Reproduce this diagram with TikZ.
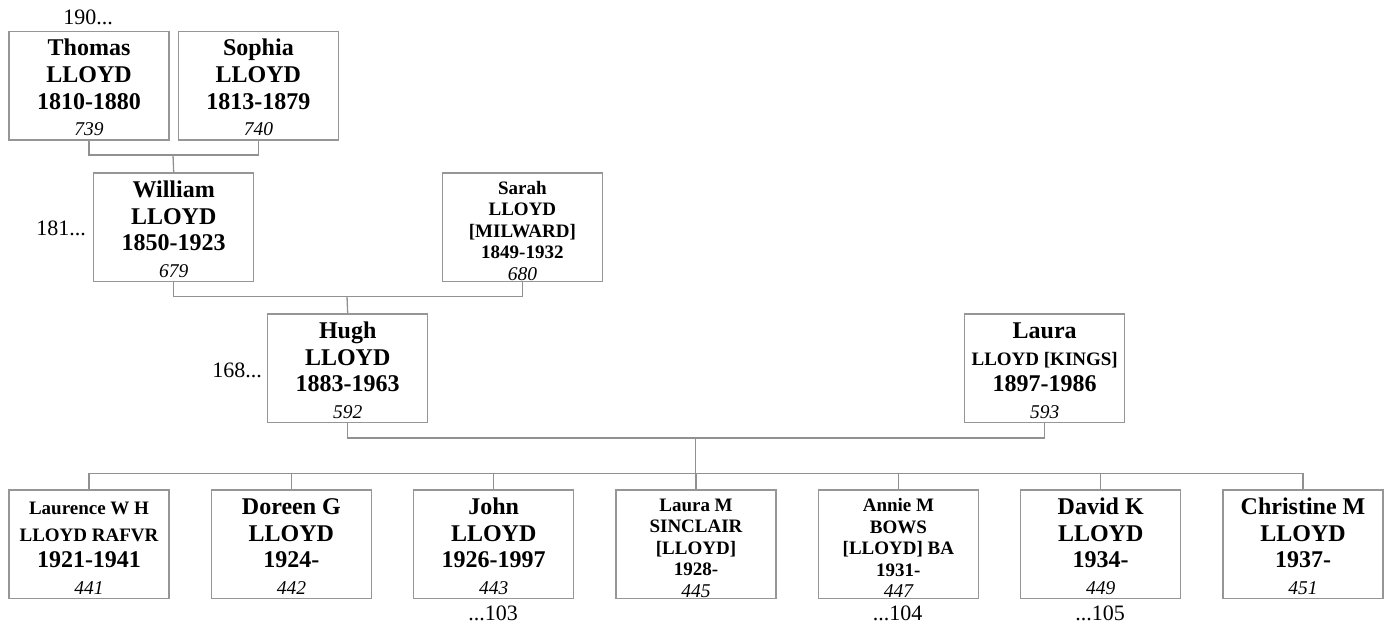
\documentclass[tikz,border=0pt]{standalone}
\usepackage{fontspec}
\setmainfont{Liberation Serif}
\definecolor{boxgray}{RGB}{150,150,150}
\definecolor{linegray}{RGB}{145,145,145}
\newcommand{\pnum}[1]{{\fontsize{19.5}{26.7}\selectfont\mdseries\itshape #1}}
\newcommand{\pmid}[1]{{\fontsize{19}{26.7}\selectfont\bfseries #1}}
\newcommand{\ptop}{\rule{0pt}{20.5pt}}
\begin{document}
\begin{tikzpicture}[x=1pt,y=-1pt,
  person/.style={draw=boxgray, line width=1.4pt, minimum width=160pt, minimum height=108.5pt,
    inner sep=0pt, text width=158pt, align=flush center, anchor=north west,
    font=\fontsize{24}{26.7}\selectfont\bfseries},
  small/.style={font=\fontsize{19}{21.5}\selectfont\bfseries},
  lbl/.style={inner sep=0pt, font=\fontsize{22}{24}\selectfont},
  conn/.style={draw=linegray, line width=1.3pt}]
\useasboundingbox (0,0) rectangle (1389,628);
% generation 1
\node[person] (thomas) at (8.3,30.7) {\ptop Thomas\\LLOYD\\1810-1880\\\pnum{739}};
\node[person] (sophia) at (177.7,30.7) {\ptop Sophia\\LLOYD\\1813-1879\\\pnum{740}};
% generation 2
\node[person] (william) at (93,172.3) {\ptop William\\LLOYD\\1850-1923\\\pnum{679}};
\node[person, small] (sarah) at (441.7,172.3) {\ptop Sarah\\LLOYD\\{[MILWARD]}\\1849-1932\\\pnum{680}};
% generation 3
\node[person] (hugh) at (267,313.3) {\ptop Hugh\\LLOYD\\1883-1963\\\pnum{592}};
\node[person] (laura) at (964,313.3) {\ptop Laura\\\pmid{LLOYD [KINGS]}\\1897-1986\\\pnum{593}};
% children
\node[person] (c1) at (8.3,489.3) {\ptop\pmid{Laurence W H}\\\pmid{LLOYD RAFVR}\\1921-1941\\\pnum{441}};
\node[person] (c2) at (210.7,489.3) {\ptop Doreen G\\LLOYD\\1924-\\\pnum{442}};
\node[person] (c3) at (413,489.3) {\ptop John\\LLOYD\\1926-1997\\\pnum{443}};
\node[person, small] (c4) at (615.3,489.3) {\ptop Laura M\\SINCLAIR\\{[LLOYD]}\\1928-\\\pnum{445}};
\node[person, small] (c5) at (817.7,489.3) {\ptop Annie M\\BOWS\\{[LLOYD] BA}\\1931-\\\pnum{447}};
\node[person] (c6) at (1020,489.3) {\ptop David K\\LLOYD\\1934-\\\pnum{449}};
\node[person] (c7) at (1222.3,489.3) {\ptop Christine M\\LLOYD\\1937-\\\pnum{451}};
% labels
\node[lbl, anchor=base] (l190) at (88,25) {190...};
\node[lbl, anchor=base east] (l181) at (86,236) {181...};
\node[lbl, anchor=base east] (l168) at (262,377.7) {168...};
\node[lbl, anchor=base] (l103) at (493,620) {...103};
\node[lbl, anchor=base] (l104) at (897.7,620) {...104};
\node[lbl, anchor=base] (l105) at (1100,620) {...105};
% connectors
\coordinate (m1) at (173,155);
\draw[conn] (thomas.south) |- (m1) -| (sophia.south);
\draw[conn] (m1) -- (william.north);
\coordinate (m2) at (347,296.7);
\draw[conn] (william.south) |- (m2) -| (sarah.south);
\draw[conn] (m2) -- (hugh.north);
\coordinate (m3) at (695.3,438);
\draw[conn] (hugh.south) |- (m3) -| (laura.south);
\coordinate (m4) at (695.3,473.3);
\draw[conn] (m3) -- (m4);
\draw[conn] (c1.north) |- (m4) -| (c7.north);
\foreach \c in {c2,c3,c4,c5,c6}{
  \draw[conn] (\c.north) -- (\c.north |- m4);
}
\end{tikzpicture}
\end{document}
